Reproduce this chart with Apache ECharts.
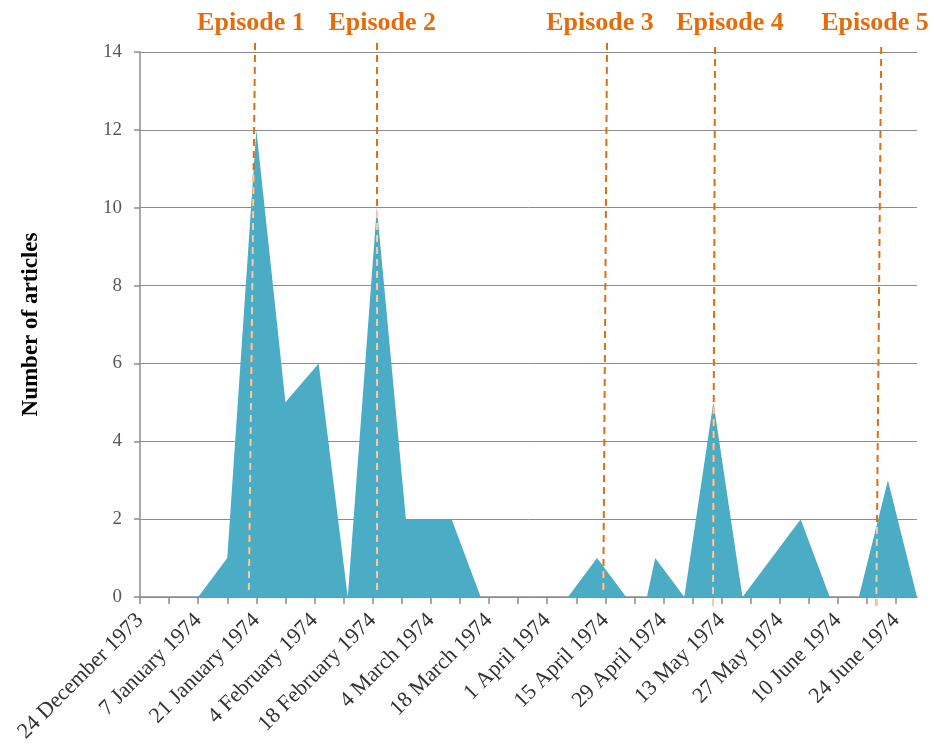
<!DOCTYPE html>
<html>
<head>
<meta charset="utf-8">
<script src="https://cdn.jsdelivr.net/npm/echarts@6/dist/echarts.min.js"></script>
<style>
  html, body { margin: 0; padding: 0; background: #fff; }
  #chart { width: 934px; height: 749px; }
</style>
</head>
<body>
<div id="chart"></div>
<script>
// weekly article counts, x axis counts days from the first date
var startDate = '1973-12-24';
var endDay = 187;

var articleDates = [
  '1973-12-24', '1973-12-31', '1974-01-07', '1974-01-14', '1974-01-21', '1974-01-28',
  '1974-02-05', '1974-02-12', '1974-02-19', '1974-02-26', '1974-03-09', '1974-03-16',
  '1974-03-23', '1974-03-30', '1974-04-06', '1974-04-13', '1974-04-20', '1974-04-25',
  '1974-04-27', '1974-05-04', '1974-05-11', '1974-05-18', '1974-06-01', '1974-06-08',
  '1974-06-15', '1974-06-22', '1974-06-29'
];
var articleCounts = [
  0, 0, 0, 1, 12, 5,
  6, 0, 10, 2, 2, 0,
  0, 0, 0, 1, 0, 0,
  1, 0, 5, 0, 2, 0,
  0, 3, 0
];

var tickLabels = [
  '24 December 1973', '7 January 1974', '21 January 1974', '4 February 1974',
  '18 February 1974', '4 March 1974', '18 March 1974', '1 April 1974',
  '15 April 1974', '29 April 1974', '13 May 1974', '27 May 1974',
  '10 June 1974', '24 June 1974'
];
var yTicks = [0, 2, 4, 6, 8, 10, 12, 14];

// episode markers (day offsets / values)
var episodeNames = ['Episode 1', 'Episode 2', 'Episode 3', 'Episode 4', 'Episode 5'];
var episodeTopDay = [27.7, 57.05, 112.4, 138.4, 178.4];
var episodeBottomDay = [26.2, 57.05, 111.5, 137.9, 177.2];
var episodeBottomValue = [0.18, 0.18, 0.18, -0.23, -0.23];
var episodeTopValue = 14.26;
var episodeLabelDay = [26.7, 58.3, 110.7, 142.0, 176.9];
var episodeLabelValue = 14.75;

function dayOf(s) {
  var p = s.split('-'), q = startDate.split('-');
  return Math.round((Date.UTC(+p[0], p[1] - 1, +p[2]) - Date.UTC(+q[0], q[1] - 1, +q[2])) / 86400000);
}

var areaData = articleDates.map(function (d, i) { return [dayOf(d), articleCounts[i]]; });

function areaAt(day) {
  for (var i = 1; i < areaData.length; i++) {
    var a = areaData[i - 1], b = areaData[i];
    if (day >= a[0] && day <= b[0]) {
      return a[1] + (b[1] - a[1]) * (day - a[0]) / (b[0] - a[0]);
    }
  }
  return 0;
}

var ORANGE = '#E46C0A';
var PEACH = '#F8CBA2';
var series = [{
  name: 'Articles',
  type: 'line',
  data: areaData,
  symbol: 'none',
  lineStyle: { width: 0 },
  areaStyle: { color: '#4BACC6', opacity: 1 },
  z: 2
}];

episodeNames.forEach(function (name, i) {
  var b = [episodeBottomDay[i], episodeBottomValue[i]];
  var t = [episodeTopDay[i], episodeTopValue];
  series.push({
    name: name,
    type: 'line',
    data: [b, t],
    symbol: 'none',
    clip: false,
    silent: true,
    lineStyle: { color: ORANGE, width: 2, type: [7, 5] },
    z: 3
  });
  // part of the marker that lies inside the filled area is drawn lighter
  var exit = 0;
  for (var k = 0; k <= 400; k++) {
    var f = k / 400;
    var x = b[0] + (t[0] - b[0]) * f, y = b[1] + (t[1] - b[1]) * f;
    if (y > areaAt(x)) break;
    exit = f;
  }
  if (exit > 0) {
    series.push({
      name: name + ' inner',
      type: 'line',
      data: [b, [b[0] + (t[0] - b[0]) * exit, b[1] + (t[1] - b[1]) * exit]],
      symbol: 'none',
      clip: false,
      silent: true,
      lineStyle: { color: PEACH, width: 2, type: [7, 5] },
      z: 4
    });
  }
});

series.push({
  name: 'labels',
  type: 'scatter',
  clip: false,
  symbolSize: 0,
  silent: true,
  itemStyle: { opacity: 1 },
  data: episodeNames.map(function (n, i) {
    return { name: n, value: [episodeLabelDay[i], episodeLabelValue] };
  }),
  label: {
    show: true,
    position: 'inside',
    formatter: '{b}',
    color: ORANGE,
    opacity: 1,
    fontFamily: 'Liberation Serif',
    fontWeight: 'bold',
    fontSize: 26
  },
  z: 5
});

var myChart = echarts.init(document.getElementById('chart'));
myChart.setOption({
  animation: false,
  backgroundColor: '#fff',
  grid: { left: 140, right: 17, top: 52, bottom: 152 },
  xAxis: {
    type: 'value',
    min: 0,
    max: endDay,
    axisLine: { show: true, onZero: false, lineStyle: { color: '#8c8c8c', width: 1.5 } },
    axisTick: {
      show: true,
      length: 7,
      customValues: tickLabels.map(function (l, i) { return i * 14; })
        .concat(tickLabels.map(function (l, i) { return i * 14 + 7; })),
      lineStyle: { color: '#8c8c8c', width: 1.5 }
    },
    axisLabel: {
      customValues: tickLabels.map(function (l, i) { return i * 14; }),
      formatter: function (v) { return tickLabels[Math.round(v / 14)] || ''; },
      rotate: 45,
      margin: 20,
      color: '#333',
      fontFamily: 'Liberation Serif',
      fontSize: 22
    },
    splitLine: { show: false }
  },
  yAxis: {
    type: 'value',
    min: 0,
    max: 14,
    interval: 2,
    name: 'Number of articles',
    nameLocation: 'middle',
    nameGap: 97,
    nameRotate: 90,
    nameTextStyle: {
      color: '#000',
      fontFamily: 'Liberation Serif',
      fontWeight: 'bold',
      fontSize: 23
    },
    axisLine: { show: true, lineStyle: { color: '#8c8c8c', width: 1.5 } },
    axisTick: { show: true, length: 6, lineStyle: { color: '#8c8c8c', width: 1.5 } },
    axisLabel: {
      margin: 18,
      color: '#595959',
      fontFamily: 'Liberation Serif',
      fontSize: 19,
      formatter: function (v) { return yTicks.indexOf(v) >= 0 ? String(v) : ''; }
    },
    splitLine: { show: true, lineStyle: { color: '#8c8c8c', width: 1 } }
  },
  series: series
});
</script>
</body>
</html>
